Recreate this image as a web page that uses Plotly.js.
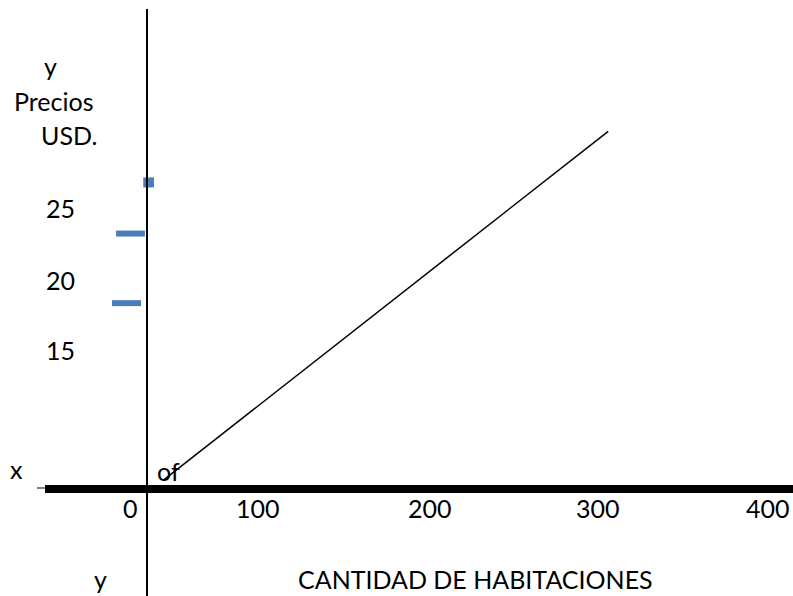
<!DOCTYPE html>
<html>
<head>
<meta charset="utf-8">
<script src="https://cdn.plot.ly/plotly-3.0.1.min.js"></script>
<style>html,body{margin:0;padding:0;background:#fff;}#chart{width:793px;height:596px;}</style>
</head>
<body>
<div id="chart"></div>
<script>
// Data
var lineX = [44, 306];
var lineY = [5.8, 30.4];
var markTopX = [32.5, 38.8];
var markTopY = [26.8, 26.8];
var markMidX = [16.5, 33.5];
var markMidY = [23.2, 23.2];
var markBotX = [14.1, 31.2];
var markBotY = [18.3, 18.3];
var xTickLabels = ["0", "100", "200", "300", "400"];
var yTickLabels = ["25", "20", "15"];
var xTitle = "CANTIDAD DE HABITACIONES";
var yTitleLines = ["y", "Precios", "USD."];

var W = 793, H = 596;
function px(x){ return x / W; }
function py(y){ return 1 - y / H; }

var blue = "#4a7ebb";
var traces = [
  {x: lineX, y: lineY, mode: "lines", line: {color: "#000", width: 1.5}, hoverinfo: "skip"},
  {x: markTopX, y: markTopY, mode: "lines", line: {color: blue, width: 10}, hoverinfo: "skip"},
  {x: markMidX, y: markMidY, mode: "lines", line: {color: blue, width: 6}, hoverinfo: "skip"},
  {x: markBotX, y: markBotY, mode: "lines", line: {color: blue, width: 6}, hoverinfo: "skip"}
];

var font = {family: "Lato, Open Sans, sans-serif", size: 25, color: "#000"};
var ann = [];
function addText(t, x, y){
  ann.push({text: t, x: px(x), y: py(y), xref: "paper", yref: "paper",
            xanchor: "center", yanchor: "middle", showarrow: false, font: font});
}
addText(yTitleLines[0], 50, 66);
addText(yTitleLines[1], 54, 101);
addText(yTitleLines[2], 69, 135);
var yLabPos = [208, 280, 350];
yTickLabels.forEach(function(t, i){ addText(t, 60, yLabPos[i]); });
var xLabPos = [130, 258, 430, 598, 768];
xTickLabels.forEach(function(t, i){ addText(t, xLabPos[i], 508); });
addText("x", 16, 469);
addText("of", 168, 471);
addText("y", 100, 579);
addText(xTitle, 475, 579);

var shapes = [
  {type: "line", xref: "paper", yref: "paper", x0: px(147), x1: px(147), y0: py(9), y1: py(596), line: {color: "#000", width: 2}},
  {type: "line", xref: "paper", yref: "paper", x0: px(45), x1: px(793), y0: py(489), y1: py(489), line: {color: "#000", width: 8}},
  {type: "line", xref: "paper", yref: "paper", x0: px(37), x1: px(46), y0: py(488), y1: py(488), line: {color: "#000", width: 1}}
];

var layout = {
  width: W, height: H,
  margin: {l: 0, r: 0, t: 0, b: 0},
  paper_bgcolor: "#fff", plot_bgcolor: "#fff",
  showlegend: false,
  xaxis: {range: [-88/1.7, (793-88)/1.7], visible: false, fixedrange: true},
  yaxis: {range: [(563-596)/14.2, 563/14.2], visible: false, fixedrange: true},
  annotations: ann,
  shapes: shapes
};
Plotly.newPlot("chart", traces, layout, {displayModeBar: false, staticPlot: true});
</script>
</body>
</html>
